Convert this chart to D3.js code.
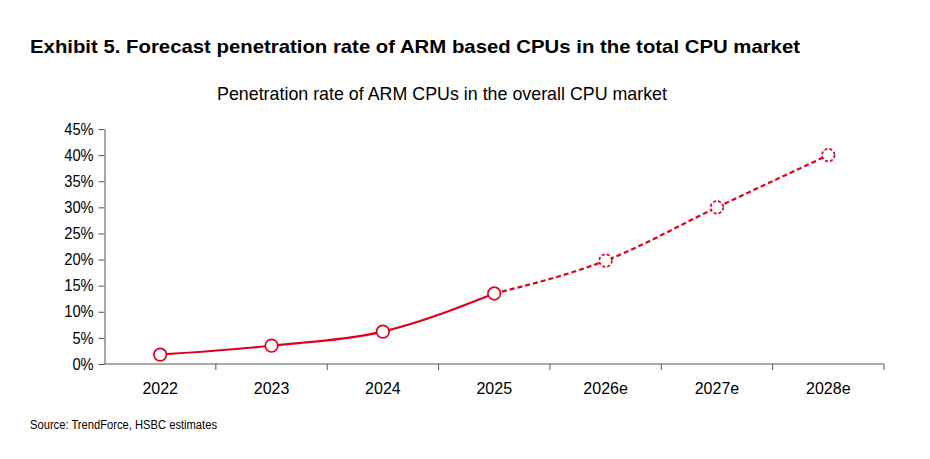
<!DOCTYPE html>
<html><head><meta charset="utf-8">
<script src="https://cdn.jsdelivr.net/npm/d3@7/dist/d3.min.js"></script>
<style>
body{margin:0;background:#fff;font-family:"Liberation Sans",Arial,sans-serif}
</style></head><body>
<svg id="chart" width="930" height="459"></svg>
<script>
const years = ["2022", "2023", "2024", "2025", "2026e", "2027e", "2028e"]
const penetration = [1.8, 3.5, 6.2, 13.5, 19.8, 30, 40]
const yTicks = [0, 5, 10, 15, 20, 25, 30, 35, 40, 45]
const lastActual = 3 // 2025 is the last non-forecast point

const svg = d3.select("#chart")
const red = "#e0001b"

svg.append("text").attr("x", 30).attr("y", 53)
  .attr("font-size", 19).attr("font-weight", "bold")
  .attr("textLength", 770).attr("lengthAdjust", "spacingAndGlyphs")
  .text("Exhibit 5. Forecast penetration rate of ARM based CPUs in the total CPU market")
svg.append("text").attr("x", 217).attr("y", 100)
  .attr("font-size", 19).attr("textLength", 450).attr("lengthAdjust", "spacingAndGlyphs")
  .text("Penetration rate of ARM CPUs in the overall CPU market")
svg.append("text").attr("x", 30).attr("y", 429).attr("font-size", 12)
  .attr("textLength", 187).attr("lengthAdjust", "spacingAndGlyphs")
  .text("Source: TrendForce, HSBC estimates")

const x = d3.scaleBand().domain(years).range([104.5, 884])
const y = d3.scaleLinear().domain([0, 45]).range([364, 129])

// y axis
const gy = svg.append("g").attr("transform", "translate(104.5,0)")
  .call(d3.axisLeft(y).tickValues(yTicks).tickFormat(d => d + "%").tickSize(6).tickSizeOuter(0))
gy.selectAll("text").attr("font-size", 16).attr("font-family", "Liberation Sans, Arial").attr("fill", "#000").attr("dx", "-2")
  .attr("transform", "scale(0.92,1)").attr("x", -9 / 0.92)
gy.select(".domain").attr("stroke", "#555")
gy.selectAll(".tick line").attr("stroke", "#555")

// x axis with ticks between categories
const gx = svg.append("g").attr("transform", "translate(0,364)")
gx.append("line").attr("x1", 104.5).attr("x2", 884).attr("stroke", "#555")
gx.selectAll(".tk").data(years).join("line")
  .attr("x1", (d, i) => x(d) + x.step())
  .attr("x2", (d, i) => x(d) + x.step())
  .attr("y1", 0).attr("y2", 6).attr("stroke", "#555")
gx.selectAll("text").data(years).join("text")
  .attr("x", d => x(d) + x.bandwidth() / 2).attr("y", 30)
  .attr("text-anchor", "middle").attr("font-size", 16).text(d => d)

const pts = years.map((d, i) => ({ year: d, v: penetration[i] }))
const line = d3.line().x(d => x(d.year) + x.bandwidth() / 2).y(d => y(d.v)).curve(d3.curveMonotoneX)

svg.append("path").datum(pts.slice(0, lastActual + 1)).attr("d", line)
  .attr("fill", "none").attr("stroke", red).attr("stroke-width", 2.2)
svg.append("path").datum(pts.slice(lastActual)).attr("d", line)
  .attr("fill", "none").attr("stroke", red).attr("stroke-width", 2.2).attr("stroke-dasharray", "5,3")

svg.selectAll(".pt").data(pts).join("circle")
  .attr("cx", d => x(d.year) + x.bandwidth() / 2).attr("cy", d => y(d.v)).attr("r", 6.3)
  .attr("fill", "#fff").attr("stroke", red).attr("stroke-width", 1.7)
  .attr("stroke-dasharray", (d, i) => i > lastActual ? "3,2" : null)
</script>
</body></html>
